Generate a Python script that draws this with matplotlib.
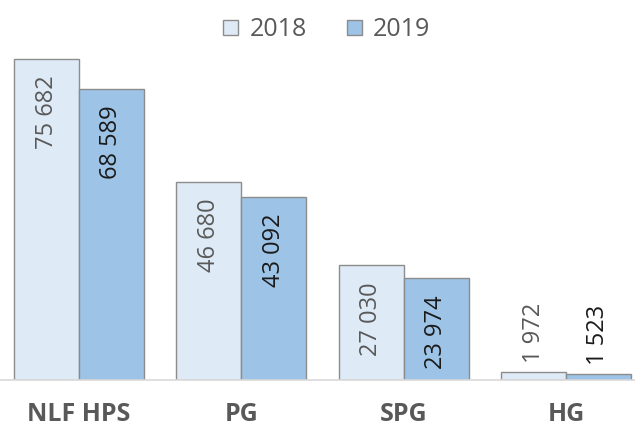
import matplotlib
matplotlib.use("Agg")
import matplotlib.pyplot as plt
import numpy as np

categories = ["NLF HPS", "PG", "SPG", "HG"]
series_names = ["2018", "2019"]
values_2018 = [75682, 46680, 27030, 1972]
values_2019 = [68589, 43092, 23974, 1523]

plt.rcParams['font.family'] = ['Open Sans', 'DejaVu Sans']

fig = plt.figure(figsize=(6.35, 4.33), dpi=100)
ax = fig.add_axes([0, 53/433, 1, 380/433])

x = np.arange(len(categories))
w = 0.4
colors = ["#deebf7", "#9dc3e6"]
txtcol = ["#595959", "#1a1a1a"]
for i, (vals, name) in enumerate(zip([values_2018, values_2019], series_names)):
    pos = x + (i - 0.5) * w
    ax.bar(pos, vals, width=w, color=colors[i], edgecolor="#8c8c8c",
           linewidth=1.0, label=name, zorder=2)
    for p, v in zip(pos, vals):
        s = f"{v:,}".replace(",", " ")
        if v > 10000:
            ax.annotate(s, (p, v), xytext=(0, -12), textcoords="offset points",
                        rotation=90, ha="center", va="top", fontsize=17,
                        color=txtcol[i])
        else:
            ax.annotate(s, (p, v), xytext=(0, 6), textcoords="offset points",
                        rotation=90, ha="center", va="bottom", fontsize=17,
                        color=txtcol[i])

ax.set_xlim(-0.4867, 3.425)
ax.set_ylim(0, 89600)
for sp in ["top", "right", "left"]:
    ax.spines[sp].set_visible(False)
ax.spines["bottom"].set_color("#d9d9d9")
ax.spines["bottom"].set_linewidth(1.2)
ax.set_yticks([])
ax.set_xticks(x)
ax.set_xticklabels(categories, fontsize=18, fontweight="bold", color="#595959")
ax.tick_params(axis="x", length=0, pad=16)

leg = fig.legend(loc="upper center", bbox_to_anchor=(0.515, 1.012), ncol=2,
                 frameon=False, fontsize=18, handlelength=0.6, handleheight=0.6,
                 handletextpad=0.45, columnspacing=1.6, labelcolor="#595959")

fig.savefig("out.png", dpi=100)
